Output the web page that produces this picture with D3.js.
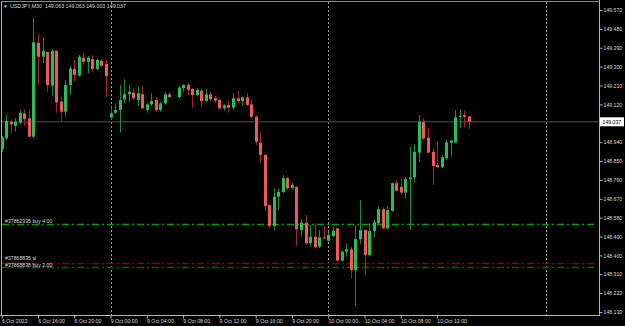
<!DOCTYPE html>
<html>
<head>
<meta charset="utf-8">
<script src="https://cdn.jsdelivr.net/npm/d3@7"></script>
<style>
  body { margin: 0; background: #000; }
  svg { display: block; }
  text { font-family: "Liberation Sans", Arial, sans-serif; }
</style>
</head>
<body>
<svg id="chart" width="625" height="326"></svg>
<script>
// USDJPY M30, bars from 6 Oct 12:00 to 10 Oct 15:30 (bar 38 is empty)
var opens  = [148.907,148.958,149.037,149.017,149.033,149.077,149.054,148.966,149.414,149.347,
              149.370,149.209,149.376,149.133,149.085,149.212,149.289,149.257,149.343,149.323,
              149.336,149.289,149.328,149.313,149.058,149.080,149.093,149.144,149.169,149.176,
              149.141,149.169,149.093,149.120,149.141,149.093,149.125,149.168,null,149.154,
              149.197,149.212,149.193,149.165,149.185,149.136,149.168,149.150,149.141,149.101,
              149.117,149.104,149.149,149.136,149.154,149.120,149.061,148.937,148.879,148.640,
              148.540,148.680,148.702,148.768,148.721,148.727,148.521,148.556,148.458,148.489,
              148.441,148.486,148.470,148.492,148.529,148.375,148.418,148.429,148.330,148.477,
              148.521,148.402,148.516,148.553,148.620,148.529,148.613,148.744,148.727,148.699,
              148.764,148.772,148.890,149.037,148.961,148.894,148.831,148.820,148.863,148.937,
              148.939,149.061,149.069,149.063];
var highs  = [148.969,149.069,149.049,149.054,149.093,149.097,149.093,149.535,149.459,149.440,
              149.372,149.383,149.378,149.157,149.236,149.303,149.332,149.355,149.364,149.351,
              149.355,149.340,149.336,149.332,149.106,149.125,149.212,149.240,149.212,149.197,
              149.204,149.204,149.128,149.173,149.154,149.133,149.176,149.176,null,149.208,
              149.217,149.223,149.197,149.197,149.197,149.192,149.178,149.160,149.149,149.120,
              149.136,149.173,149.184,149.157,149.176,149.141,149.069,148.987,148.881,148.642,
              148.720,148.720,148.783,148.775,148.747,148.731,148.572,148.593,148.545,148.553,
              148.521,148.540,148.513,148.540,148.532,148.422,148.458,148.441,148.540,148.664,
              148.524,148.553,148.569,148.632,148.629,148.635,148.747,148.759,148.768,148.775,
              148.918,148.931,149.069,149.054,149.009,148.911,148.942,148.879,148.950,148.953,
              149.093,149.097,149.093,149.063];
var lows   = [148.893,148.950,148.982,148.990,149.026,149.017,148.963,148.958,149.212,149.316,
              149.180,149.160,149.080,149.037,149.061,149.165,149.228,149.252,149.308,149.268,
              149.276,149.281,149.300,149.157,149.045,149.077,148.985,149.125,149.133,149.141,
              149.112,149.097,149.080,149.112,149.085,149.085,149.120,149.152,null,149.150,
              149.180,149.165,149.104,149.157,149.109,149.133,149.133,149.128,149.097,149.090,
              149.080,149.093,149.125,149.112,149.114,149.054,148.926,148.842,148.616,148.529,
              148.518,148.616,148.696,148.712,148.715,148.446,148.489,148.449,148.441,148.434,
              148.434,148.477,148.465,148.489,148.370,148.370,148.394,148.291,148.161,148.454,
              148.306,148.394,148.486,148.550,148.524,148.524,148.608,148.704,148.688,148.672,
              148.521,148.747,148.847,148.950,148.887,148.736,148.815,148.815,148.855,148.870,
              148.934,149.006,149.011,149.003];
var closes = [148.962,149.041,149.025,149.037,149.080,149.049,148.966,149.416,149.347,149.375,
              149.212,149.375,149.130,149.085,149.212,149.292,149.260,149.347,149.323,149.343,
              149.289,149.332,149.304,149.255,149.077,149.093,149.141,149.169,149.180,149.149,
              149.173,149.101,149.120,149.136,149.093,149.125,149.168,149.154,null,149.200,
              149.212,149.189,149.165,149.189,149.136,149.168,149.144,149.138,149.101,149.116,
              149.104,149.149,149.136,149.154,149.117,149.061,148.942,148.879,148.635,148.540,
              148.680,148.702,148.768,148.720,148.736,148.524,148.556,148.458,148.489,148.438,
              148.486,148.481,148.497,148.518,148.375,148.418,148.429,148.330,148.477,148.521,
              148.402,148.516,148.558,148.620,148.529,148.616,148.744,148.708,148.699,148.764,
              148.772,148.894,149.037,148.958,148.890,148.826,148.820,148.868,148.939,148.947,
              149.058,149.066,149.061,149.037];

var priceTicks = [149.570,149.480,149.390,149.300,149.210,149.120,148.940,148.850,148.760,
                  148.670,148.580,148.490,148.400,148.310,148.220,148.130];
var timeTickIdx = [0,8,16,24,32,40,48,56,64,72,80,88,96];
var timeTickLabels = ["6 Oct 2023","6 Oct 16:00","6 Oct 20:00","9 Oct 00:00","9 Oct 04:00",
                      "9 Oct 08:00","9 Oct 12:00","9 Oct 16:00","9 Oct 20:00","10 Oct 00:00",
                      "10 Oct 04:00","10 Oct 08:00","10 Oct 12:00"];
var daySepIdx = [24,72,120];

var orderPrices = [148.547,148.361,148.342];
var orderLabels = ["#37862335 buy 4.00","#37868835 sl","#37868838 buy 2.00"];
var orderColors = ["#00a000","#8b0000","#006400"];
var orderLabelShift = [-2, -3.5, -1];

var symbolTitle = "USDJPY,M30";
var ohlcTitle = [149.063,149.063,149.003,149.037];
var bidPrice = 149.037;

var upBody = "#27bd5e", upWick = "#178a40";
var dnBody = "#ee5a58", dnWick = "#a32626";
var axisColor = "#b4b4b4", textColor = "#d8d8d8";

var svg = d3.select("#chart");
var plotRight = 599, plotBottom = 315;

var x = d3.scaleLinear().domain([0, 120]).range([1.7, 1.7 + 120 * 4.535]);
var y = d3.scaleLinear().domain([148.130, 149.570]).range([312, 10]);

function DrawFrame(){
  // background
  svg.append("rect").attr("width", 625).attr("height", 326).attr("fill", "#000");

  // day separators
  svg.selectAll(".daysep")
     .data(daySepIdx)
     .enter().append("line")
     .attr("class", "daysep")
     .attr("x1", function(d){ return Math.round(x(d)) + 0.5; })
     .attr("x2", function(d){ return Math.round(x(d)) + 0.5; })
     .attr("y1", 2).attr("y2", plotBottom)
     .attr("stroke", "#9a9a9a")
     .attr("stroke-dasharray", "2,2");

  // bid line
  svg.append("line")
     .attr("x1", 0).attr("x2", plotRight)
     .attr("y1", y(bidPrice)).attr("y2", y(bidPrice))
     .attr("stroke", "#363636")
     .attr("stroke-width", 1.5);

  // left / top border
  svg.append("line").attr("x1", 1.5).attr("x2", 1.5).attr("y1", 1).attr("y2", plotBottom)
     .attr("stroke", axisColor);
  svg.append("line").attr("x1", 1).attr("x2", plotRight).attr("y1", 1.5).attr("y2", 1.5)
     .attr("stroke", "#8a8a8a");
}

function DrawOrders(){
  var g = svg.append("g");
  g.selectAll(".order")
   .data(orderPrices)
   .enter().append("line")
   .attr("class", "order")
   .attr("x1", 2).attr("x2", 596)
   .attr("y1", function(d){ return y(d); })
   .attr("y2", function(d){ return y(d); })
   .attr("stroke", function(d, i){ return orderColors[i]; })
   .attr("stroke-width", 1.4)
   .attr("stroke-dasharray", "7,3,2,3");

  g.selectAll(".olabel")
   .data(orderPrices)
   .enter().append("text")
   .attr("class", "olabel")
   .attr("x", 5)
   .attr("y", function(d, i){ return y(d) + orderLabelShift[i]; })
   .attr("font-size", "5.2px")
   .attr("fill", textColor)
   .text(function(d, i){ return orderLabels[i]; });
}

function DrawCandles(){
  var bars = [];
  for (var i = 0; i < opens.length; i++) {
    if (opens[i] == null) continue;
    bars.push({i: i, o: opens[i], h: highs[i], l: lows[i], c: closes[i]});
  }
  var g = svg.append("g");

  g.selectAll(".wick")
   .data(bars)
   .enter().append("line")
   .attr("class", "wick")
   .attr("x1", function(d){ return Math.round(x(d.i)) + 0.5; })
   .attr("x2", function(d){ return Math.round(x(d.i)) + 0.5; })
   .attr("y1", function(d){ return y(d.h); })
   .attr("y2", function(d){ return y(d.l); })
   .attr("stroke", function(d){ return d.c >= d.o ? upWick : dnWick; });

  g.selectAll(".body")
   .data(bars)
   .enter().append("rect")
   .attr("class", "body")
   .attr("x", function(d){ return Math.round(x(d.i)) - 1; })
   .attr("width", 3)
   .attr("y", function(d){ return y(Math.max(d.o, d.c)); })
   .attr("height", function(d){ return Math.max(1, Math.abs(y(d.o) - y(d.c))); })
   .attr("fill", function(d){ return d.c >= d.o ? upBody : dnBody; });
}

function DrawAxes(){
  var ya = svg.append("g")
     .attr("transform", "translate(" + (plotRight + 0.5) + ",0)")
     .call(d3.axisRight(y).tickValues(priceTicks).tickSize(3).tickPadding(1)
           .tickFormat(d3.format(".3f")));
  ya.select(".domain").attr("stroke", axisColor).attr("d", "M0,0V" + plotBottom);
  ya.selectAll(".tick line").attr("stroke", axisColor);
  ya.selectAll(".tick text").attr("fill", textColor).attr("font-size", "5.2px")
    .attr("font-family", "Liberation Sans, Arial, sans-serif");

  var xa = svg.append("g")
     .attr("transform", "translate(0," + (plotBottom + 0.5) + ")")
     .call(d3.axisBottom(x).tickValues(timeTickIdx).tickSize(3).tickPadding(1)
           .tickFormat(function(d, i){ return timeTickLabels[i]; }));
  xa.select(".domain").attr("stroke", axisColor).attr("d", "M0,0H" + (plotRight + 1));
  xa.selectAll(".tick line").attr("stroke", axisColor);
  xa.selectAll(".tick text").attr("fill", textColor).attr("font-size", "5.2px")
    .attr("font-family", "Liberation Sans, Arial, sans-serif")
    .attr("text-anchor", "start").attr("dx", "-0.3px");

  // bid price tag
  var tag = svg.append("g").attr("transform", "translate(600," + y(bidPrice) + ")");
  tag.append("rect").attr("x", 0).attr("y", -4.5).attr("width", 24).attr("height", 9)
     .attr("fill", "#fff");
  tag.append("text").attr("x", 2.5).attr("y", 1.9).attr("font-size", "5.2px")
     .attr("fill", "#000").text(d3.format(".3f")(bidPrice));
}

function DrawTitle(){
  svg.append("text")
     .attr("x", 3).attr("y", 8)
     .attr("font-size", "4.5px")
     .attr("fill", textColor)
     .text("\u25BC");
  svg.append("text")
     .attr("x", 10).attr("y", 8)
     .attr("font-size", "5.3px")
     .attr("fill", textColor)
     .attr("xml:space", "preserve")
     .text(symbolTitle + "  " + ohlcTitle.map(d3.format(".3f")).join(" "));
}

DrawFrame();
DrawOrders();
DrawCandles();
DrawAxes();
DrawTitle();
</script>
</body>
</html>
